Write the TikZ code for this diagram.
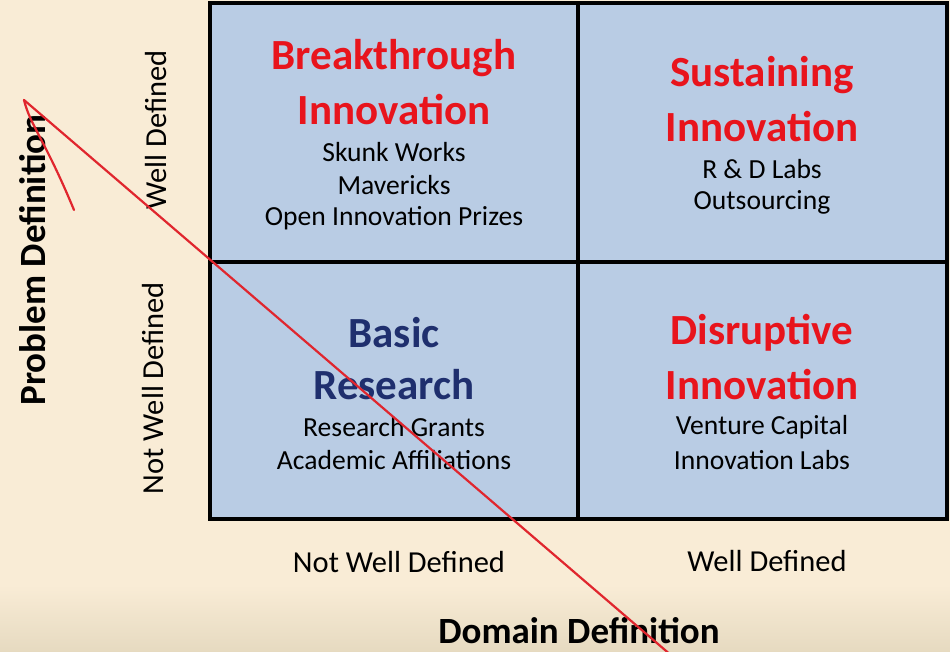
\documentclass[tikz,border=0pt]{standalone}
\usepackage{fontspec}
\setmainfont{Carlito}
\definecolor{bgtop}{HTML}{F9ECD6}
\definecolor{bgbot}{HTML}{E6DAC0}
\definecolor{cellblue}{HTML}{B9CCE4}
\definecolor{tred}{HTML}{E8141C}
\definecolor{tnavy}{HTML}{1F2F6E}
\definecolor{inkred}{HTML}{E0262E}
\begin{document}
\begin{tikzpicture}[x=1pt,y=-1pt,
  title/.style={font=\fontsize{43}{52}\selectfont\bfseries, align=center, text=tred, inner sep=0pt},
  body/.style={font=\fontsize{27.6}{33}\selectfont, align=center, inner sep=0pt},
  axis/.style={font=\fontsize{30.5}{36}\selectfont, inner sep=0pt},
  axistitle/.style={font=\fontsize{37}{42}\selectfont\bfseries, inner sep=0pt},
  cell/.style={fill=cellblue, draw=black, line width=3.2pt},
  ink/.style={draw=inkred, line width=2.2pt, line cap=round}]
\useasboundingbox (0,0) rectangle (950,652);
\fill[bgtop] (0,0) rectangle (950,652);
\shade[top color=bgtop, bottom color=bgbot] (0,585) rectangle (950,652);
% grid
\draw[cell] (210,3) rectangle (578,262);
\draw[cell] (578,3) rectangle (947,262);
\draw[cell] (210,262) rectangle (578,519);
\draw[cell] (578,262) rectangle (947,519);
% top-left
\node[title] (bt1) at (394,58) {Breakthrough};
\node[title] (bt2) at (394,110) {Innovation};
\node[body] (bb1) at (394,152) {Skunk Works};
\node[body] (bb2) at (394,185) {Mavericks};
\node[body] (bb3) at (394,218) {Open Innovation Prizes};
% top-right
\node[title] (st1) at (762,75) {Sustaining};
\node[title] (st2) at (762,127) {Innovation};
\node[body] (sb1) at (762,169) {R \& D Labs};
\node[body] (sb2) at (762,202) {Outsourcing};
% bottom-left
\node[title, text=tnavy] (rt1) at (394,333) {Basic};
\node[title, text=tnavy] (rt2) at (394,385) {Research};
\node[body] (rb1) at (394,427) {Research Grants};
\node[body] (rb2) at (394,460) {Academic Affiliations};
% bottom-right
\node[title] (dt1) at (762,333) {Disruptive};
\node[title] (dt2) at (762,385) {Innovation};
\node[body] (db1) at (762,427) {Venture Capital};
\node[body] (db2) at (762,460) {Innovation Labs};
% axis labels
\node[axis, rotate=90] (ywd) at (156,130) {Well Defined};
\node[axis, rotate=90] (ynwd) at (153,388) {Not Well Defined};
\node[axistitle, rotate=90] (yt) at (33,260) {Problem Definition};
\node[axis] (xnwd) at (399,562) {Not Well Defined};
\node[axis] (xwd) at (767,561) {Well Defined};
\node[axistitle] (xt) at (579,631) {Domain Definition};
% red annotation
\coordinate (tip) at (24,100);
\coordinate (tail) at (672,656);
\coordinate (hook) at (74,210);
\draw[ink] (tip) -- (tail);
\draw[ink] (tip) .. controls (30,125) and (45,140) .. (hook);
\end{tikzpicture}
\end{document}
